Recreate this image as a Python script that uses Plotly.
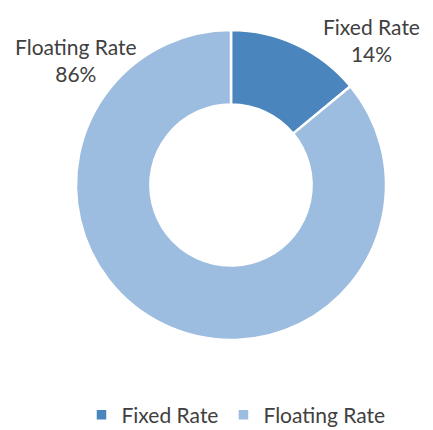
import plotly.graph_objects as go

categories = ["Fixed Rate", "Floating Rate"]
values = [14, 86]
colors = ["#4a85bd", "#9cbce0"]

W, H = 433, 430
OFF = 8  # page body margin offset


def px(x):
    return (x - OFF) / W


def py(y):
    return 1 - (y - OFF) / H


fig = go.Figure(go.Pie(
    labels=categories,
    values=values,
    hole=0.52,
    sort=False,
    direction="clockwise",
    rotation=0,
    marker=dict(colors=colors, line=dict(color="white", width=2.5)),
    textinfo="none",
    hoverinfo="label+percent",
    domain=dict(x=[px(76), px(386)], y=[py(340), py(30)]),
))

lab_font = dict(size=21, color="#404040", family="Lato")
fig.add_annotation(x=px(371), y=py(40), xref="paper", yref="paper",
                   xanchor="center", yanchor="middle",
                   text=f"{categories[0]}<br>{values[0]}%", showarrow=False,
                   font=lab_font, align="center")
fig.add_annotation(x=px(76), y=py(60), xref="paper", yref="paper",
                   xanchor="center", yanchor="middle",
                   text=f"{categories[1]}<br>{values[1]}%", showarrow=False,
                   font=lab_font, align="center")

fig.update_layout(
    width=W, height=H,
    margin=dict(l=0, r=0, t=0, b=0),
    paper_bgcolor="white",
    plot_bgcolor="white",
    font=dict(family="Lato", size=21, color="#404040"),
    legend=dict(orientation="h", x=px(236), xanchor="center", y=py(415), yanchor="middle",
                font=dict(size=21), itemwidth=30),
    showlegend=True,
)

fig.write_html("out.html")
